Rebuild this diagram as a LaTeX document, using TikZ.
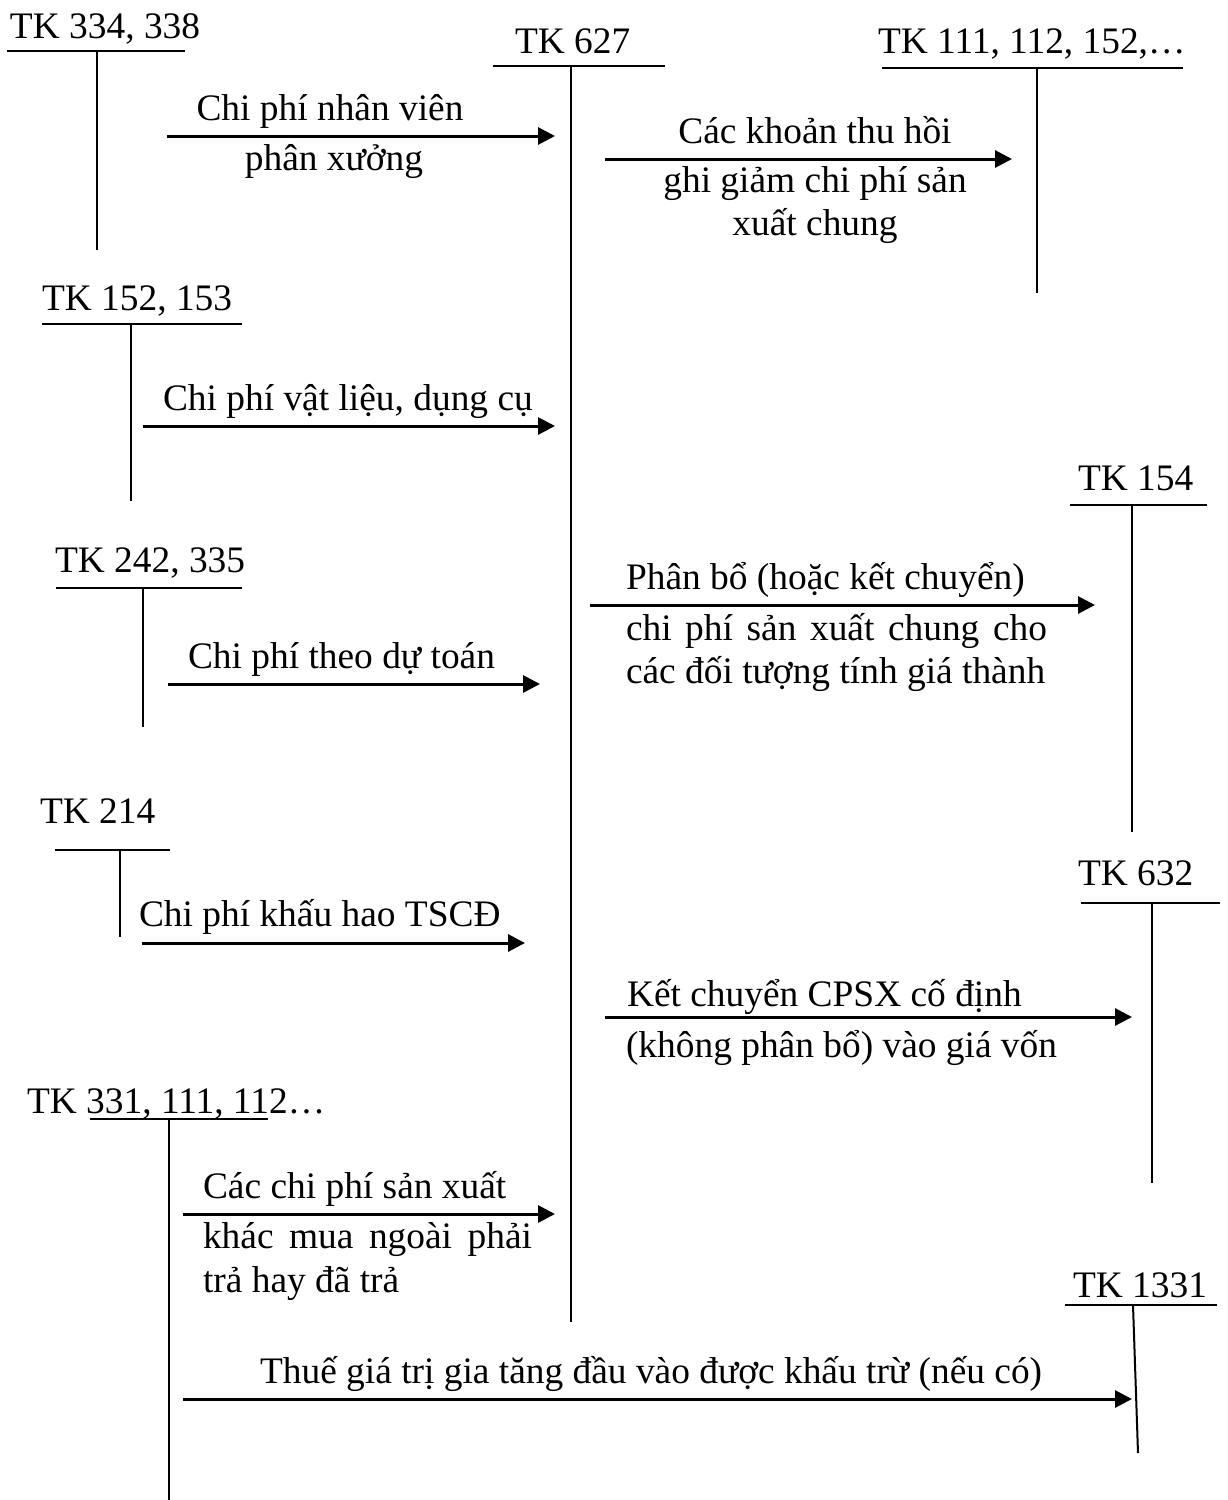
\documentclass[tikz,border=0pt]{standalone}
\usepackage{fontspec}
\setmainfont{Liberation Serif}
\usetikzlibrary{arrows.meta}
\begin{document}
\begin{tikzpicture}[x=0.5pt,y=-0.5pt,
  acc/.style={line width=1pt},
  flow/.style={line width=1.5pt,-{Triangle[length=8.5pt,width=8.5pt]}},
  lbl/.style={inner sep=0pt,outer sep=0pt,anchor=base west,font=\fontsize{18.7}{21.5}\selectfont},
  lblc/.style={lbl,anchor=base}]
\useasboundingbox (0,0) rectangle (1227,1500);
\fill[white] (0,0) rectangle (1227,1500);

% T-accounts: title, top rule, vertical stem
\node[lbl] (t334) at (10,38) {TK 334, 338};
\draw[acc] (7,51) -- (185,51);
\draw[acc] (97,51) -- (97,250);

\node[lbl] (t627) at (515,53) {TK 627};
\draw[acc] (493,66) -- (665,66);
\draw[acc] (571,66) -- (571,1322);

\node[lbl] (t111) at (878,53) {TK 111, 112, 152,…};
\draw[acc] (882,68) -- (1183,68);
\draw[acc] (1037,68) -- (1037,293);

\node[lbl] (t152) at (42,310) {TK 152, 153};
\draw[acc] (42,324) -- (242,324);
\draw[acc] (131,324) -- (131,501);

\node[lbl] (t242) at (55,572) {TK 242, 335};
\draw[acc] (56,588) -- (242,588);
\draw[acc] (143,588) -- (143,727);

\node[lbl] (t154) at (1078,490) {TK 154};
\draw[acc] (1070,505) -- (1207,505);
\draw[acc] (1132,505) -- (1132,832);

\node[lbl] (t214) at (40,823) {TK 214};
\draw[acc] (55,850) -- (170,850);
\draw[acc] (120,850) -- (120,937);

\node[lbl] (t632) at (1078,885) {TK 632};
\draw[acc] (1081,903) -- (1220,903);
\draw[acc] (1152,903) -- (1152,1183);

\node[lbl] (t331) at (27,1113) {TK 331, 111, 112…};
\draw[acc] (90,1119) -- (268,1119);
\draw[acc] (169,1119) -- (169,1500);

\node[lbl] (t1331) at (1073,1297) {TK 1331};
\draw[acc] (1065,1305) -- (1217,1305);
\draw[acc] (1133,1305) -- (1138,1453);

% arrow end points
\coordinate (a1s) at (167,136);  \coordinate (a1e) at (555,136);
\coordinate (a2s) at (605,159);  \coordinate (a2e) at (1012,159);
\coordinate (a3s) at (143,426);  \coordinate (a3e) at (555,426);
\coordinate (a4s) at (168,684);  \coordinate (a4e) at (540,684);
\coordinate (a5s) at (590,605);  \coordinate (a5e) at (1095,605);
\coordinate (a6s) at (142,943);  \coordinate (a6e) at (525,943);
\coordinate (a7s) at (605,1017); \coordinate (a7e) at (1132,1017);
\coordinate (a8s) at (183,1214); \coordinate (a8e) at (555,1214);
\coordinate (a9s) at (183,1399); \coordinate (a9e) at (1132,1399);

\draw[flow] (a1s) -- (a1e);
\draw[flow] (a2s) -- (a2e);
\draw[flow] (a3s) -- (a3e);
\draw[flow] (a4s) -- (a4e);
\draw[flow] (a5s) -- (a5e);
\draw[flow] (a6s) -- (a6e);
\draw[flow] (a7s) -- (a7e);
\draw[flow] (a8s) -- (a8e);
\draw[flow] (a9s) -- (a9e);

% arrow captions
\node[lblc] (c1a) at (330,120) {Chi phí nhân viên};
\node[lblc] (c1b) at (334,170) {phân xưởng};

\node[lblc] (c2a) at (815,143) {Các khoản thu hồi};
\node[lblc] (c2b) at (815,192) {ghi giảm chi phí sản};
\node[lblc] (c2c) at (815,235) {xuất chung};

\node[lbl] (c3) at (163,410) {Chi phí vật liệu, dụng cụ};

\node[lbl] (c4) at (188,668) {Chi phí theo dự toán};

\node[lbl] (c5a) at (626,589) {Phân bổ (hoặc kết chuyển)};
\node[lbl] (c5b) at (626,640) {\makebox[210.5pt][s]{chi phí sản xuất chung cho}};
\node[lbl] (c5c) at (626,683) {các đối tượng tính giá thành};

\node[lbl] (c6) at (139,926) {Chi phí khấu hao TSCĐ};

\node[lbl] (c7a) at (627,1006) {Kết chuyển CPSX cố định};
\node[lbl] (c7b) at (626,1057) {(không phân bổ) vào giá vốn};

\node[lbl] (c8a) at (203,1198) {Các chi phí sản xuất};
\node[lbl] (c8b) at (203,1248) {\makebox[164.5pt][s]{khác mua ngoài phải}};
\node[lbl] (c8c) at (203,1292) {trả hay đã trả};

\node[lbl] (c9) at (260,1383) {Thuế giá trị gia tăng đầu vào được khấu trừ (nếu có)};
\end{tikzpicture}
\end{document}
